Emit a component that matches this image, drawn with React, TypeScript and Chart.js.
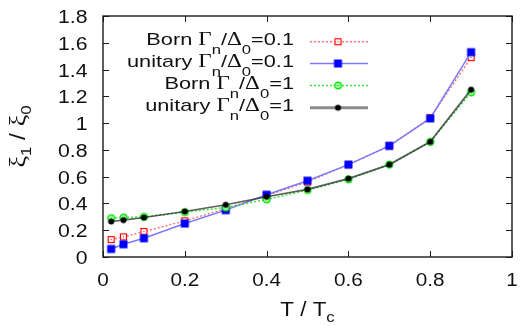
import React, { useEffect, useRef } from "react";
import { Chart, registerables } from "chart.js";

Chart.register(...registerables);

// Reduced temperature T / Tc
const temps = [0.02, 0.05, 0.1, 0.2, 0.3, 0.4, 0.5, 0.6, 0.7, 0.8, 0.9];
// xi1 / xi0 for each scattering limit and impurity strength
const bornWeak = [0.13, 0.15, 0.19, 0.27, 0.36, 0.46, 0.56, 0.69, 0.83, 1.04, 1.49];
const unitaryWeak = [0.06, 0.095, 0.14, 0.25, 0.35, 0.465, 0.57, 0.69, 0.83, 1.035, 1.53];
const bornStrong = [0.29, 0.295, 0.3, 0.335, 0.37, 0.43, 0.5, 0.58, 0.69, 0.86, 1.23];
const unitaryStrong = [0.265, 0.275, 0.295, 0.34, 0.39, 0.45, 0.505, 0.585, 0.69, 0.86, 1.25];

const xTicks = [0, 0.2, 0.4, 0.6, 0.8, 1];
const yTicks = [0, 0.2, 0.4, 0.6, 0.8, 1, 1.2, 1.4, 1.6, 1.8];
const xTickLabels = ["0", "0.2", "0.4", "0.6", "0.8", "1"];
const yTickLabels = ["0", "0.2", "0.4", "0.6", "0.8", "1", "1.2", "1.4", "1.6", "1.8"];

type Part = { t: string; sub?: boolean; serif?: boolean };

const legendRows: { parts: Part[]; key: string }[] = [
  { key: "bornWeak", parts: [{ t: "Born " }, { t: "Γ", serif: true }, { t: "n", sub: true }, { t: "/" }, { t: "Δ", serif: true }, { t: "0", sub: true }, { t: "=0.1" }] },
  { key: "unitaryWeak", parts: [{ t: "unitary " }, { t: "Γ", serif: true }, { t: "n", sub: true }, { t: "/" }, { t: "Δ", serif: true }, { t: "0", sub: true }, { t: "=0.1" }] },
  { key: "bornStrong", parts: [{ t: "Born " }, { t: "Γ", serif: true }, { t: "n", sub: true }, { t: "/" }, { t: "Δ", serif: true }, { t: "0", sub: true }, { t: "=1" }] },
  { key: "unitaryStrong", parts: [{ t: "unitary " }, { t: "Γ", serif: true }, { t: "n", sub: true }, { t: "/" }, { t: "Δ", serif: true }, { t: "0", sub: true }, { t: "=1" }] },
];

const SANS = '"Liberation Sans", Arial, sans-serif';
const SERIF = '"Liberation Serif", "Times New Roman", serif';
const TEXT = "#111111";

function makeMarker(kind: string): HTMLCanvasElement {
  const c = document.createElement("canvas");
  c.width = 11;
  c.height = 11;
  const g = c.getContext("2d")!;
  const m = 5.5;
  if (kind === "openSquare") {
    g.fillStyle = "#ffffff";
    g.fillRect(2, 2, 7, 7);
    g.strokeStyle = "#ff0000";
    g.lineWidth = 1.2;
    g.strokeRect(2.5, 2.5, 6, 6);
    g.fillStyle = "#ff0000";
    g.fillRect(5, 5, 1, 1);
  } else if (kind === "square") {
    g.fillStyle = "#0000ff";
    g.fillRect(1.5, 1.5, 8, 8);
  } else if (kind === "openCircle") {
    g.beginPath();
    g.arc(m, m, 3.4, 0, Math.PI * 2);
    g.fillStyle = "#9dff9d";
    g.fill();
    g.strokeStyle = "#00e000";
    g.lineWidth = 1.3;
    g.stroke();
    g.fillStyle = "#00c000";
    g.fillRect(5, 5, 1, 1);
  } else {
    g.beginPath();
    g.arc(m, m, 3, 0, Math.PI * 2);
    g.fillStyle = "#000000";
    g.fill();
  }
  return c;
}

// width of a run of text pieces (unscaled)
function richWidth(ctx: CanvasRenderingContext2D, parts: Part[], size: number, subSize: number) {
  let w = 0;
  for (const p of parts) {
    ctx.font = `${p.sub ? subSize : p.serif ? size + 1 : size}px ${p.serif ? SERIF : SANS}`;
    w += ctx.measureText(p.t).width;
  }
  return w;
}

// draws text pieces with subscripts; align: 0 left, 0.5 centre, 1 right; hs = horizontal stretch
function drawRich(
  ctx: CanvasRenderingContext2D,
  parts: Part[],
  x: number,
  y: number,
  align: number,
  size: number,
  subSize: number,
  subShift: number,
  hs: number
) {
  const w = richWidth(ctx, parts, size, subSize) * hs;
  ctx.save();
  ctx.translate(x - w * align, y);
  ctx.scale(hs, 1);
  ctx.textBaseline = "alphabetic";
  ctx.textAlign = "left";
  let cx = 0;
  for (const p of parts) {
    ctx.font = `${p.sub ? subSize : p.serif ? size + 1 : size}px ${p.serif ? SERIF : SANS}`;
    ctx.fillText(p.t, cx, p.sub ? subShift : 0);
    cx += ctx.measureText(p.t).width;
  }
  ctx.restore();
}

export default function App() {
  const ref = useRef<HTMLCanvasElement | null>(null);

  useEffect(() => {
    const canvas = ref.current;
    if (!canvas) return;

    const markers: Record<string, HTMLCanvasElement> = {
      bornWeak: makeMarker("openSquare"),
      unitaryWeak: makeMarker("square"),
      bornStrong: makeMarker("openCircle"),
      unitaryStrong: makeMarker("dot"),
    };
    const lineStyles: Record<string, { color: string; width: number; dash: number[] }> = {
      bornWeak: { color: "rgba(255,60,60,0.7)", width: 1.5, dash: [2, 2] },
      unitaryWeak: { color: "#7a7aff", width: 1.5, dash: [] },
      bornStrong: { color: "rgba(0,230,0,0.8)", width: 1.5, dash: [2, 2] },
      unitaryStrong: { color: "rgba(40,40,40,0.75)", width: 1.7, dash: [] },
    };
    const series: Record<string, number[]> = { bornWeak, unitaryWeak, bornStrong, unitaryStrong };
    const drawOrder: Record<string, number> = { bornWeak: 4, unitaryWeak: 3, bornStrong: 2, unitaryStrong: 1 };

    const frame = {
      id: "frame",
      afterDraw(chart: any) {
        const ctx: CanvasRenderingContext2D = chart.ctx;
        const { left, right, top, bottom } = chart.chartArea;
        const xs = chart.scales.x;
        const ys = chart.scales.y;
        ctx.save();
        ctx.strokeStyle = "#1a1a1a";
        ctx.lineWidth = 1.4;
        ctx.strokeRect(left, top, right - left, bottom - top);
        ctx.lineWidth = 1;
        const tl = 6;
        ctx.beginPath();
        for (const v of xTicks) {
          const px = Math.round(xs.getPixelForValue(v)) + 0.5;
          ctx.moveTo(px, bottom);
          ctx.lineTo(px, bottom - tl);
          ctx.moveTo(px, top);
          ctx.lineTo(px, top + tl);
        }
        for (const v of yTicks) {
          const py = Math.round(ys.getPixelForValue(v)) + 0.5;
          ctx.moveTo(left, py);
          ctx.lineTo(left + tl, py);
          ctx.moveTo(right, py);
          ctx.lineTo(right - tl, py);
        }
        ctx.stroke();

        // tick labels
        ctx.fillStyle = TEXT;
        xTicks.forEach((v, i) => {
          drawRich(ctx, [{ t: xTickLabels[i] }], xs.getPixelForValue(v), bottom + 29, 0.5, 18, 13, 0, 1.15);
        });
        yTicks.forEach((v, i) => {
          drawRich(ctx, [{ t: yTickLabels[i] }], left - 15.5, ys.getPixelForValue(v) + 7, 1, 18, 13, 0, 1.18);
        });

        // key
        const textRight = 294;
        const rowY = [41.7, 63.5, 85.5, 107.7];
        legendRows.forEach((row, i) => {
          const y = rowY[i];
          ctx.fillStyle = TEXT;
          drawRich(ctx, row.parts, textRight, y + 3.5, 1, 17, 13, 8.5, 1.28);
          const ls = lineStyles[row.key];
          ctx.save();
          ctx.strokeStyle = ls.color;
          ctx.lineWidth = ls.width;
          if (row.key === "unitaryStrong") {
            ctx.strokeStyle = "rgba(90,90,90,0.7)";
            ctx.lineWidth = 3;
          }
          ctx.setLineDash(ls.dash);
          ctx.beginPath();
          ctx.moveTo(310, y);
          ctx.lineTo(368, y);
          ctx.stroke();
          ctx.restore();
          const mk = markers[row.key];
          ctx.drawImage(mk, 338 - mk.width / 2, y - mk.height / 2);
        });

        // axis titles
        ctx.fillStyle = TEXT;
        const xt: Part[] = [{ t: "T / T" }, { t: "c", sub: true }];
        drawRich(ctx, xt, (left + right) / 2, 316, 0.5, 20, 15, 6, 1.12);

        const yt: Part[] = [{ t: "ξ", serif: true }, { t: "1", sub: true }, { t: " / " }, { t: "ξ", serif: true }, { t: "0", sub: true }];
        ctx.save();
        ctx.translate(25, (top + bottom) / 2);
        ctx.rotate(-Math.PI / 2);
        drawRich(ctx, yt, 0, 0, 0.5, 22, 15, 6, 1.12);
        ctx.restore();
        ctx.restore();
      },
    };

    const keys = ["bornWeak", "unitaryWeak", "bornStrong", "unitaryStrong"];
    const chart = new Chart(canvas, {
      type: "line",
      data: {
        datasets: keys.map((k) => ({
          label: k,
          data: temps.map((t, i) => ({ x: t, y: series[k][i] })),
          borderColor: lineStyles[k].color,
          borderWidth: lineStyles[k].width,
          borderDash: lineStyles[k].dash,
          pointStyle: markers[k] as any,
          pointRadius: 5,
          tension: 0,
          fill: false,
          order: drawOrder[k],
        })),
      },
      options: {
        responsive: false,
        animation: false,
        events: [],
        layout: { padding: { left: 0, right: 8, top: 16, bottom: 0 } },
        plugins: { legend: { display: false }, tooltip: { enabled: false } },
        scales: {
          x: {
            type: "linear",
            min: 0,
            max: 1,
            afterFit: (s: any) => {
              s.height = 69;
            },
            grid: { display: false, drawTicks: false },
            border: { display: false },
            ticks: { display: false },
          },
          y: {
            type: "linear",
            min: 0,
            max: 1.8,
            afterFit: (s: any) => {
              s.width = 103;
            },
            grid: { display: false, drawTicks: false },
            border: { display: false },
            ticks: { display: false },
          },
        },
      },
      plugins: [frame],
    });

    return () => chart.destroy();
  }, []);

  return (
    <div style={{ position: "fixed", left: 0, top: 0, width: 520, height: 326, background: "#fff" }}>
      <canvas ref={ref} width={520} height={326} style={{ display: "block" }} />
    </div>
  );
}
